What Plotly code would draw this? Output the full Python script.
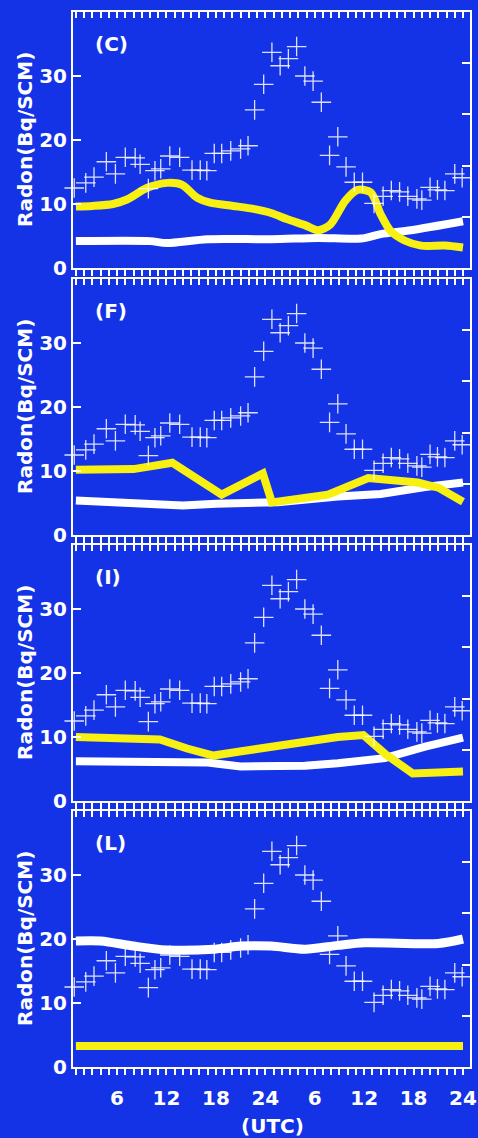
import plotly.graph_objects as go

# ---------------- data ----------------
obs_hours = [0.8, 2.2, 3.2, 4.7, 5.8, 7.0, 8.2, 8.8, 9.8, 10.6, 11.3, 12.4, 13.6, 15.1, 16.1, 16.9,
             17.8, 18.7, 19.8, 21.0, 21.9, 22.7, 23.8, 24.8, 25.8, 26.8, 27.8, 28.8, 29.8, 30.8,
             31.8, 32.8, 33.8, 34.8, 35.8, 37.2, 38.3, 39.3, 40.3, 41.3, 42.4, 43.0, 44.0, 44.9,
             45.8, 47.0, 47.9]
obs_radon = [12.5, 13.3, 14.2, 16.6, 14.7, 17.3, 17.2, 16.2, 12.4, 15.2, 15.5, 17.5, 17.3, 15.3, 15.3, 15.2,
             17.9, 17.9, 18.3, 18.6, 19.1, 24.7, 28.7, 33.7, 31.6, 32.7, 34.6, 30.0, 29.2, 25.9,
             17.6, 20.5, 15.8, 13.4, 13.4, 10.1, 11.2, 12.1, 11.9, 11.2, 10.8, 10.6, 12.6, 12.2,
             12.1, 14.7, 14.1]

panel_labels = ["(C)", "(F)", "(I)", "(L)"]

c_yel_h = [1, 3, 5.5, 7.2, 9.6, 12.1, 13.9, 15.7, 17.3, 20.1, 22.7, 24.7, 26.7, 28.8, 30.4, 31.9,
           33.7, 35.2, 36.8, 38.0, 39.2, 40.9, 42.9, 45.8, 48]
c_yel_v = [9.6, 9.7, 10.0, 10.7, 12.5, 13.3, 13.0, 11.0, 10.2, 9.7, 9.2, 8.6, 7.6, 6.7, 5.9, 6.8,
           10.5, 12.2, 11.8, 8.4, 5.8, 4.3, 3.5, 3.5, 3.2]
c_wht_h = [1, 10, 12, 17, 24.7, 30.4, 35.6, 38, 41.7, 48]
c_wht_v = [4.2, 4.2, 3.9, 4.5, 4.5, 4.7, 4.6, 5.3, 5.9, 7.3]

f_yel_h = [1, 8, 12.7, 18.7, 23.7, 24.8, 31.6, 36.5, 42.5, 45, 48]
f_yel_v = [10.2, 10.3, 11.3, 6.3, 9.6, 5.1, 6.3, 8.9, 8.2, 7.4, 5.2]
f_wht_h = [1, 8, 14, 18, 25.5, 32.8, 38, 43.4, 48]
f_wht_v = [5.4, 5.1, 4.6, 4.9, 5.1, 6.0, 6.4, 7.5, 8.2]

i_yel_h = [1, 7.6, 11.2, 14.5, 17.7, 20.7, 26.8, 32.8, 35.9, 38.5, 41.9, 45, 48]
i_yel_v = [10.0, 9.9, 9.6, 8.2, 7.1, 7.7, 9.0, 10.0, 10.3, 7.4, 4.3, 4.4, 4.6]
i_wht_h = [1, 12, 17, 21, 28.8, 32.8, 38.5, 43.4, 48]
i_wht_v = [6.2, 6.0, 6.0, 5.4, 5.5, 5.9, 6.7, 8.5, 9.9]

l_yel_h = [1, 12, 24, 36, 48]
l_yel_v = [3.3, 3.3, 3.3, 3.3, 3.3]
l_wht_h = [1, 4, 8, 12, 17.7, 21, 24.7, 28.8, 32.8, 36, 45, 48]
l_wht_v = [19.7, 19.7, 18.9, 18.3, 18.4, 18.9, 18.9, 18.4, 19.0, 19.4, 19.3, 20.0]

x_tick_hours = list(range(1, 49))
x_label_hours = [6, 12, 18, 24, 30, 36, 42, 48]
x_label_text = ["6", "12", "18", "24", "6", "12", "18", "24"]
y_ticks_left = [0, 10, 20, 30]
y_ticks_right = [10, 20, 30, 40]

yellow_lines = [(c_yel_h, c_yel_v, "spline", 8), (f_yel_h, f_yel_v, "linear", 8),
                (i_yel_h, i_yel_v, "linear", 8), (l_yel_h, l_yel_v, "linear", 8)]
white_lines = [(c_wht_h, c_wht_v, "spline", 8), (f_wht_h, f_wht_v, "linear", 8),
               (i_wht_h, i_wht_v, "linear", 8), (l_wht_h, l_wht_v, "spline", 9)]

# ---------------- layout constants ----------------
W, H = 478, 1138
BG = "#1432e6"
YEL = "#f7f010"
FONT = "DejaVu Sans"
X_LEFT, X_RIGHT = 73, 470
panels_px = [(12, 268), (279, 535), (545, 801), (811, 1067)]
XR = [0.65, 48.85]
CROSS = "rgba(255,255,255,0.85)"

ticktext = [x_label_text[x_label_hours.index(h)] if h in x_label_hours else "" for h in x_tick_hours]

fig = go.Figure()
layout = dict(width=W, height=H, margin=dict(l=0, r=0, t=0, b=0, pad=0), autosize=False,
              paper_bgcolor=BG, plot_bgcolor=BG, showlegend=False, annotations=[])

for i, (top, bot) in enumerate(panels_px):
    a, b = 2 * i + 1, 2 * i + 2
    xa, xb = f"x{a}", f"x{b}"
    ya, yb = f"y{a}", f"y{b}"
    ydom = [1 - bot / H, 1 - top / H]
    xdom = [X_LEFT / W, X_RIGHT / W]
    common = dict(showgrid=False, zeroline=False, showline=True, linecolor="white", linewidth=2,
                  tickcolor="white", tickwidth=2, automargin=False)
    layout[f"xaxis{a}"] = dict(domain=xdom, anchor=ya, range=XR, tickmode="array",
                               tickvals=x_tick_hours, ticktext=ticktext, ticks="outside", ticklen=6,
                               showticklabels=(i == 3), ticklabelstandoff=6,
                               tickfont=dict(family=FONT, size=20, color="white", weight="bold"),
                               **common)
    layout[f"xaxis{b}"] = dict(overlaying=xa, anchor=ya, side="top", range=XR, tickmode="array",
                               tickvals=x_tick_hours, ticks="inside", ticklen=6,
                               showticklabels=False, **common)
    layout[f"yaxis{a}"] = dict(domain=ydom, anchor=xa, range=[0, 40], tickmode="array",
                               tickvals=y_ticks_left, ticks="inside", ticklen=8,
                               tickfont=dict(family=FONT, size=20, color="white", weight="bold"),
                               **common)
    layout[f"yaxis{b}"] = dict(overlaying=ya, anchor=xa, side="right", range=[0, 50],
                               tickmode="array", tickvals=y_ticks_right, ticks="inside", ticklen=8,
                               showticklabels=False, **common)

    wh, wv, ws, ww = white_lines[i]
    yh, yv, ys, yw = yellow_lines[i]
    fig.add_trace(go.Scatter(x=[None], y=[None], xaxis=xb, yaxis=yb, hoverinfo="skip"))
    fig.add_trace(go.Scatter(x=wh, y=wv, mode="lines", xaxis=xa, yaxis=ya,
                             line=dict(color="white", width=ww, shape=ws, smoothing=0.8)))
    fig.add_trace(go.Scatter(x=yh, y=yv, mode="lines", xaxis=xa, yaxis=ya,
                             line=dict(color=YEL, width=yw, shape=ys, smoothing=0.8)))
    fig.add_trace(go.Scatter(x=obs_hours, y=obs_radon, mode="markers", xaxis=xa, yaxis=ya,
                             cliponaxis=False,
                             marker=dict(symbol="cross-thin-open", size=14, color=CROSS,
                                         line=dict(color=CROSS, width=1.3))))

    layout["annotations"].append(dict(
        text="Radon(Bq/SCM)", xref="paper", yref="paper", x=25 / W, y=1 - (top + bot) / 2 / H,
        xanchor="center", yanchor="middle", textangle=-90, showarrow=False,
        font=dict(family=FONT, size=20, color="white", weight="bold")))
    layout["annotations"].append(dict(
        text=panel_labels[i], xref="paper", yref="paper", x=93 / W, y=1 - (top + 32) / H,
        xanchor="left", yanchor="middle", showarrow=False,
        font=dict(family=FONT, size=20, color="white", weight="bold")))

layout["annotations"].append(dict(
    text="(UTC)", xref="paper", yref="paper", x=272 / W, y=1 - 1126 / H,
    xanchor="center", yanchor="middle", showarrow=False,
    font=dict(family=FONT, size=20, color="white", weight="bold")))

fig.update_layout(**layout)
fig.write_html("out.html")
